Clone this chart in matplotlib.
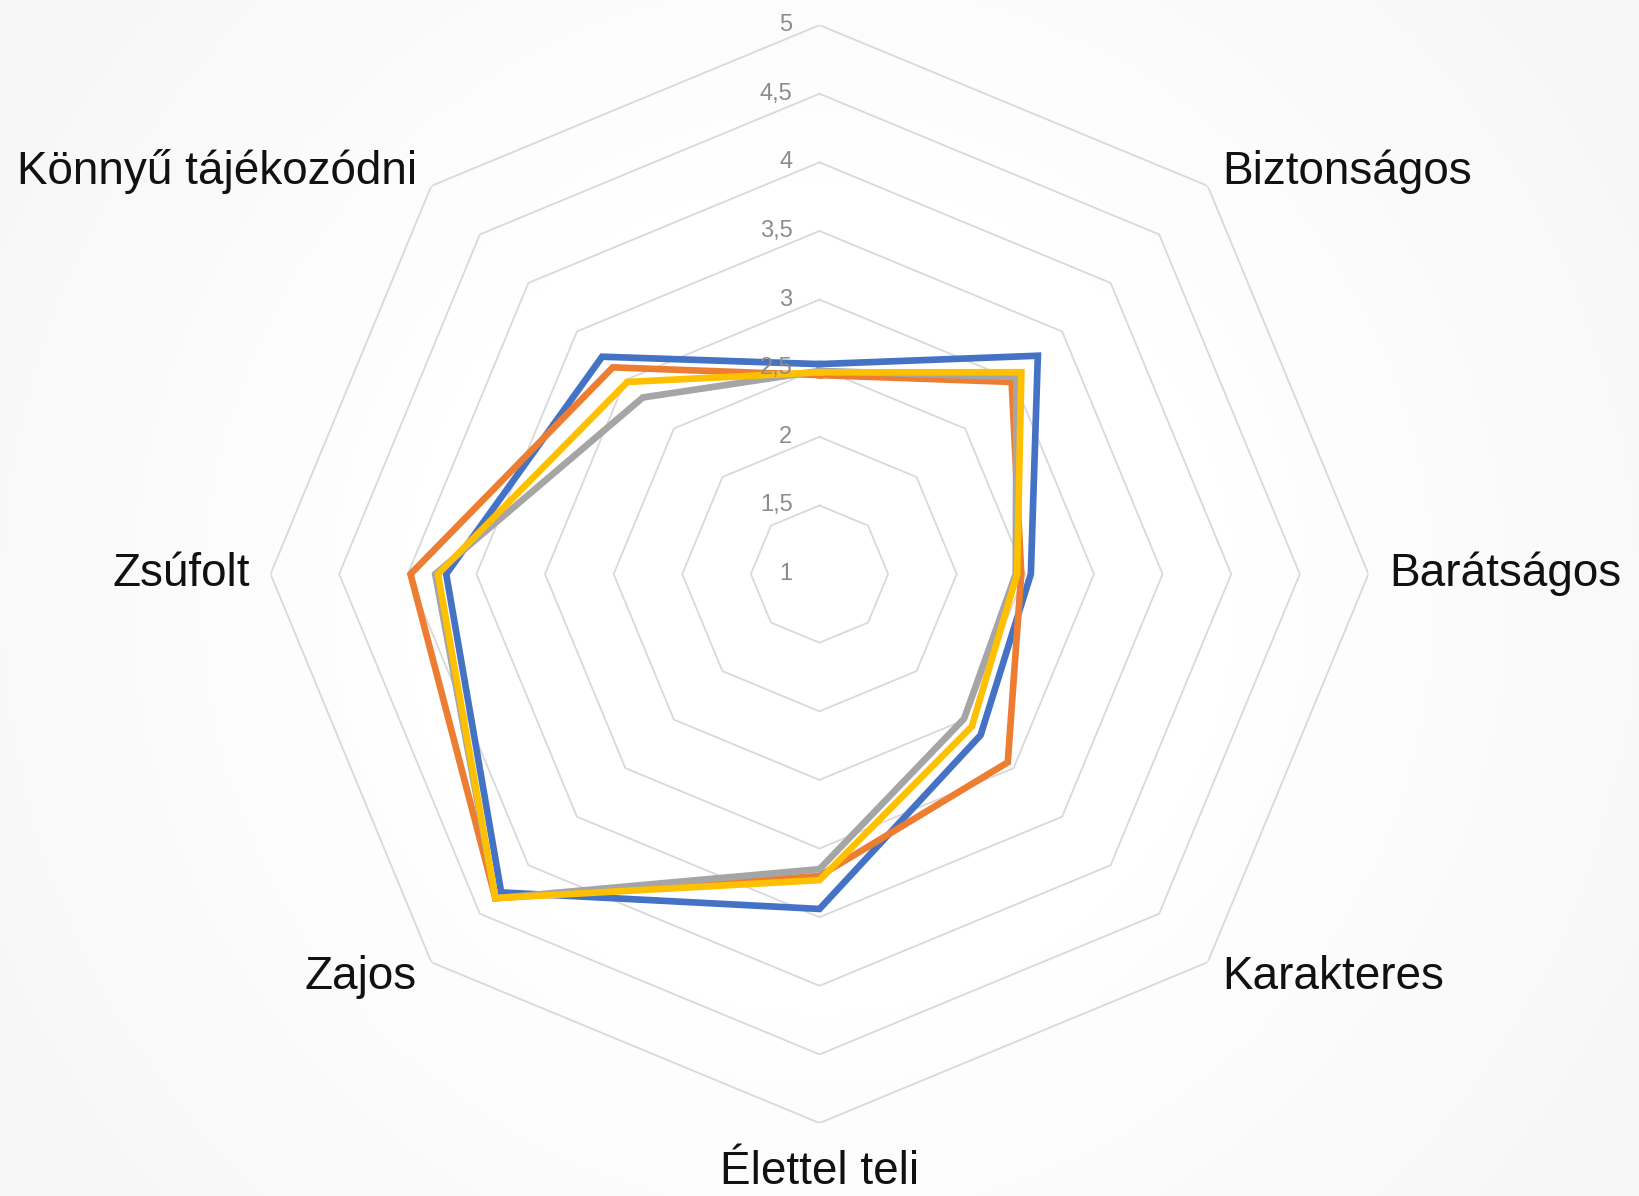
import numpy as np
import matplotlib
matplotlib.use("Agg")
import matplotlib.pyplot as plt

plt.rcParams['font.family'] = ['Liberation Sans', 'DejaVu Sans']

categories = ["", "Biztonságos", "Barátságos", "Karakteres",
              "Élettel teli", "Zajos", "Zsúfolt", "Könnyű tájékozódni"]
blue = [2.53, 3.25, 2.54, 2.66, 3.44, 4.28, 3.72, 3.24]
orange = [2.45, 2.98, 2.47, 2.94, 3.20, 4.34, 3.98, 3.13]
gray = [2.48, 3.03, 2.43, 2.49, 3.15, 4.34, 3.80, 2.82]
yellow = [2.47, 3.08, 2.44, 2.57, 3.23, 4.34, 3.78, 2.98]
ticks = [1, 1.5, 2, 2.5, 3, 3.5, 4, 4.5, 5]
tick_labels = ["1", "1,5", "2", "2,5", "3", "3,5", "4", "4,5", "5"]

fig = plt.figure(figsize=(16.39, 11.96), dpi=100)

# subtle radial background
bg = fig.add_axes([0, 0, 1, 1])
yy, xx = np.mgrid[0:1:300j, 0:1:400j]
d = np.sqrt(((xx - 0.5) * 1.37) ** 2 + (yy - 0.5) ** 2)
shade = 1.0 - 0.035 * np.clip((d - 0.35) / 0.5, 0, 1)
bg.imshow(np.dstack([shade] * 3), extent=[0, 1, 0, 1], aspect='auto')
bg.axis('off')

ax = fig.add_axes([0.165, 0.061, 0.67, 0.918], projection='polar')
ax.set_theta_offset(np.pi / 2)
ax.set_theta_direction(-1)
ax.set_ylim(1, 5)
ax.set_frame_on(False)
ax.grid(False)
ax.set_xticks([])
ax.set_yticks([])
ax.patch.set_alpha(0)

n = len(categories)
angles = np.arange(n) * 2 * np.pi / n
closed = np.append(angles, angles[0])

# octagon grid
for t in ticks[1:]:
    ax.plot(closed, [t] * (n + 1), color='#d9d9d9', lw=1.3, zorder=1)

for vals, col in [(blue, '#4472C4'), (orange, '#ED7D31'),
                  (gray, '#A5A5A5'), (yellow, '#FFC000')]:
    ax.plot(closed, vals + vals[:1], color=col, lw=4.8, zorder=3,
            solid_joinstyle='miter')

# tick labels drawn over the series lines
for t, lab in zip(ticks, tick_labels):
    ax.annotate(lab, xy=(0, t), xytext=(-27, 0), textcoords='offset pixels',
                ha='right', va='center', fontsize=17, color='#8c8c8c', zorder=5)

for a, lab in zip(angles, categories):
    s = np.sin(a)
    if abs(s) < 1e-6:
        ha = 'center'
        va = 'top' if np.cos(a) < 0 else 'bottom'
        r = 5.2
    else:
        ha = 'left' if s > 0 else 'right'
        va = 'center'
        r = 5.15
    ax.text(a, r, lab, ha=ha, va=va, fontsize=33, color='#111111')

fig.savefig("out.png", dpi=100)
